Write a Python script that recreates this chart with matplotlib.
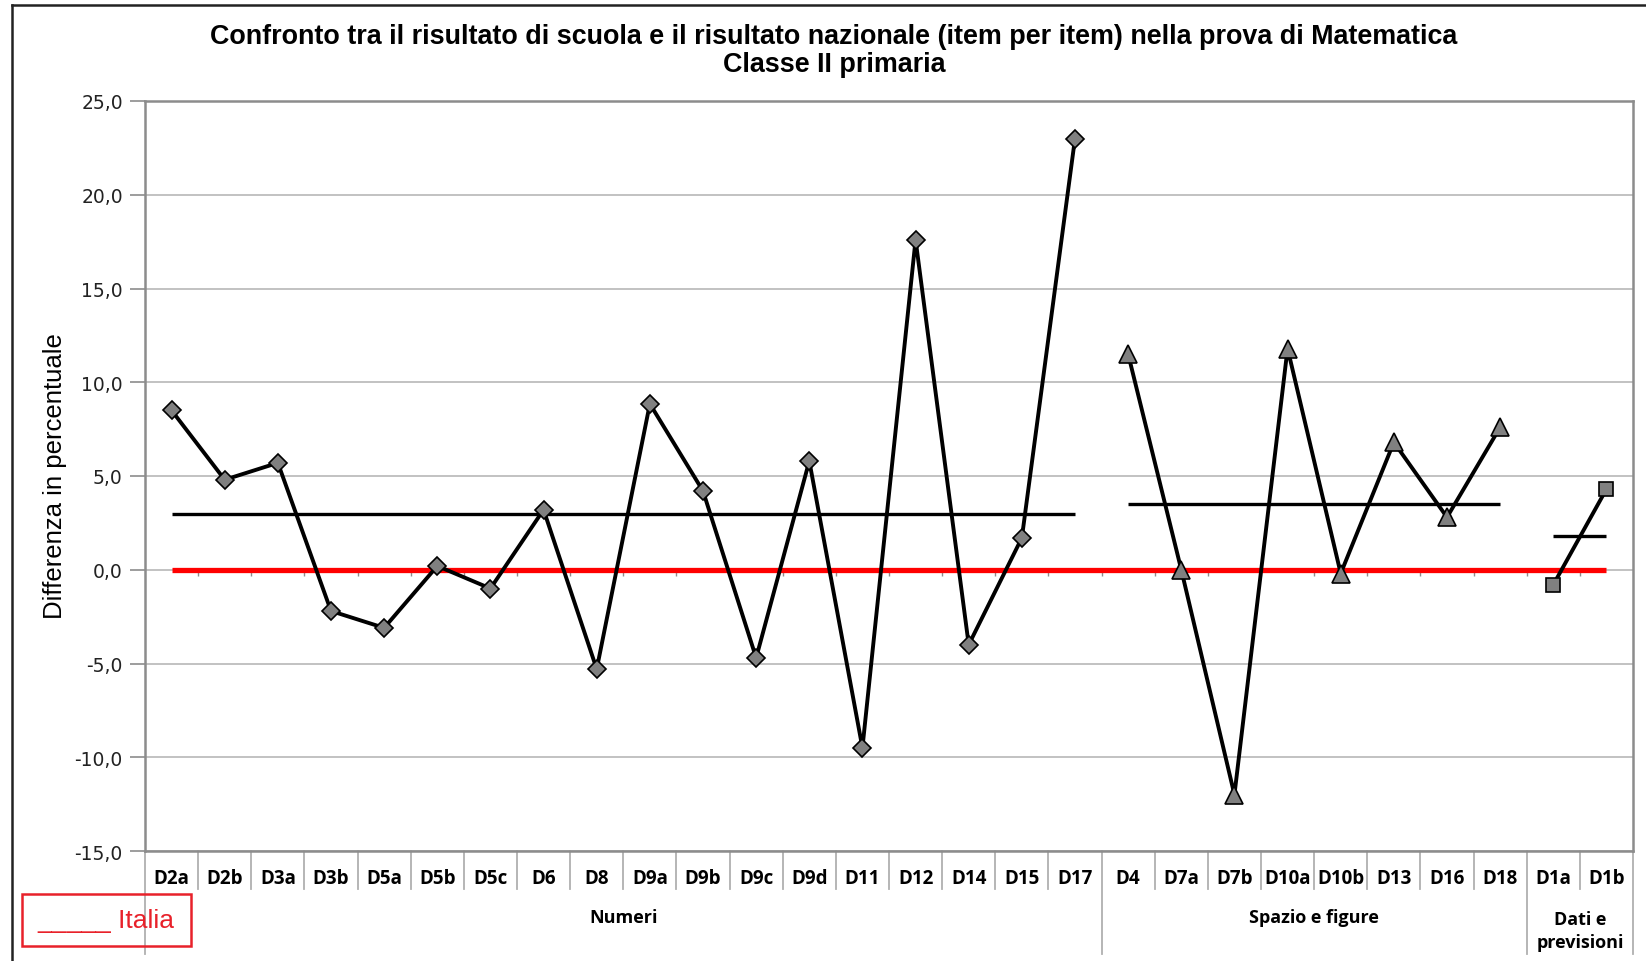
import matplotlib
matplotlib.use("Agg")
import matplotlib.pyplot as plt
from matplotlib.lines import Line2D
from matplotlib.patches import Rectangle

# data
numeri_items = ["D2a", "D2b", "D3a", "D3b", "D5a", "D5b", "D5c", "D6", "D8", "D9a",
                "D9b", "D9c", "D9d", "D11", "D12", "D14", "D15", "D17"]
numeri_vals = [8.5, 4.8, 5.7, -2.2, -3.1, 0.2, -1.0, 3.2, -5.3, 8.85,
               4.2, -4.7, 5.8, -9.5, 17.6, -4.0, 1.7, 23.0]
spazio_items = ["D4", "D7a", "D7b", "D10a", "D10b", "D13", "D16", "D18"]
spazio_vals = [11.5, 0.0, -12.0, 11.8, -0.2, 6.8, 2.8, 7.6]
dati_items = ["D1a", "D1b"]
dati_vals = [-0.8, 4.3]
group_names = ["Numeri", "Spazio e figure", "Dati e\nprevisioni"]
group_means = [3.0, 3.5, 1.8]
italia = 0.0
y_ticks = [-15, -10, -5, 0, 5, 10, 15, 20, 25]

groups = [(numeri_items, numeri_vals, "D", 9),
          (spazio_items, spazio_vals, "^", 12.5),
          (dati_items, dati_vals, "s", 9.5)]

W, H = 1646, 962
fig = plt.figure(figsize=(W / 100, H / 100), dpi=100)
ax = fig.add_axes([145 / W, 1 - 852 / H, (1633 - 145) / W, (852 - 102) / H])

all_items = numeri_items + spazio_items + dati_items
n = len(all_items)
grey = "#8c8c8c"

# 1. series per group, with group mean lines
start = 0
bounds = []
for (items, vals, mk, ms), mean in zip(groups, group_means):
    xs = list(range(start, start + len(items)))
    ax.plot(xs, vals, color="black", lw=2.8, marker=mk, ms=ms,
            markerfacecolor="#808080", markeredgecolor="black", markeredgewidth=1.2,
            zorder=5, solid_joinstyle="miter")
    ax.hlines(mean, xs[0], xs[-1], color="black", lw=2.4, zorder=4)
    bounds.append((start - 0.5, start + len(items) - 0.5))
    start += len(items)

# 2. Italia reference line
ax.hlines(italia, 0, n - 1, color="#ff0000", lw=3.8, zorder=3)
for b in range(n - 1):
    ax.vlines(b + 0.5, -0.35, 0, color=grey, lw=1, zorder=2)

# 3. axes styling
ax.set_xlim(-0.5, n - 0.5)
ax.set_ylim(-15, 25)
ax.set_yticks(y_ticks)
ax.set_yticklabels([f"{v:.1f}".replace(".", ",") for v in y_ticks],
                   fontfamily="DejaVu Sans", fontsize=13.5, color="#222222")
ax.tick_params(axis="y", length=11, width=1.2, color=grey, pad=5)
ax.yaxis.grid(True, color="#bdbdbd", lw=1.3)
ax.set_axisbelow(True)
for s in ax.spines.values():
    s.set_color(grey)
    s.set_linewidth(1.8)

ax.set_xticks(range(n))
ax.set_xticklabels(all_items, fontfamily="Open Sans", fontweight="bold", fontsize=13.5)
ax.tick_params(axis="x", length=0, pad=12)

# 4. category table below the plot
tr = ax.get_xaxis_transform()
group_edges = [b for pair in bounds for b in pair]
for b in range(n + 1):
    x = b - 0.5
    low = -0.137 if x in group_edges else -0.051
    ax.add_line(Line2D([x, x], [0, low], transform=tr, color="#b0b0b0", lw=1.3, clip_on=False))
for (lo, hi), name in zip(bounds, group_names):
    ax.text((lo + hi) / 2, -0.088 if "\n" not in name else -0.106, name, transform=tr,
            ha="center", va="center", fontfamily="Open Sans", fontweight="bold",
            fontsize=13, linespacing=1.4)

# 5. titles and labels
fig.text(834 / W, 1 - 51 / H,
         "Confronto tra il risultato di scuola e il risultato nazionale (item per item) nella prova di Matematica\nClasse II primaria",
         ha="center", va="center", fontfamily="Liberation Sans", fontweight="bold",
         fontsize=19.4, linespacing=1.1)
fig.text(55 / W, 1 - 476 / H, "Differenza in percentuale", rotation=90,
         ha="center", va="center", fontfamily="Liberation Sans", fontsize=18.5)

# 6. legend box
fig.patches.append(Rectangle((22 / W, 1 - 947 / H), (191 - 22) / W, (947 - 895) / H,
                             transform=fig.transFigure, fill=False, edgecolor="#e8212a", lw=1.8))
fig.text(106 / W, 1 - 921 / H, "_____ Italia", ha="center", va="center",
         fontfamily="Liberation Sans", fontsize=19, color="#e8212a")

# outer frame
fig.add_artist(Line2D([12 / W, 1], [1 - 6 / H, 1 - 6 / H], transform=fig.transFigure, color="#222222", lw=1.8))
fig.add_artist(Line2D([12 / W, 12 / W], [0, 1 - 6 / H], transform=fig.transFigure, color="#222222", lw=1.8))

fig.savefig("out.png", dpi=100)
